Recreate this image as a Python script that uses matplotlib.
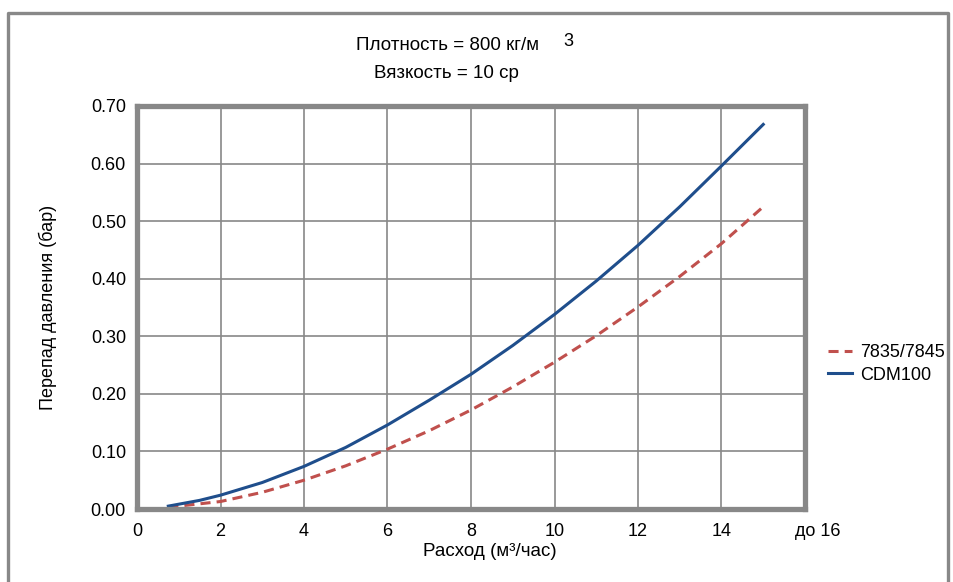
import matplotlib
matplotlib.use('Agg')
import matplotlib.pyplot as plt
from matplotlib.lines import Line2D
from matplotlib.transforms import ScaledTranslation

plt.rcParams['font.family'] = ['Liberation Sans', 'DejaVu Sans']

# flow rate, m3/h
flow = [0.75, 1.5, 2, 3, 4, 5, 6, 7, 8, 9, 10, 11, 12, 13, 14, 15]
# pressure drop, bar
dp_7835 = [0.003, 0.009, 0.013, 0.029, 0.050, 0.075, 0.104, 0.136, 0.172, 0.212, 0.255, 0.301, 0.351, 0.404, 0.461, 0.525]
dp_cdm100 = [0.005, 0.015, 0.024, 0.046, 0.074, 0.107, 0.146, 0.189, 0.234, 0.284, 0.338, 0.396, 0.458, 0.525, 0.596, 0.668]

xticks = [0, 2, 4, 6, 8, 10, 12, 14, 16]
xtick_labels = ['0', '2', '4', '6', '8', '10', '12', '14', 'до 16']
yticks = [0.0, 0.1, 0.2, 0.3, 0.4, 0.5, 0.6, 0.7]

W, H = 954, 582
fig = plt.figure(figsize=(W / 100, H / 100), dpi=100)
ax = fig.add_axes([137 / W, 1 - 509 / H, (805 - 137) / W, (509 - 106) / H])

gray = '#888888'
ax.plot(flow, dp_7835, color='#c0504d', lw=2.2, dashes=(3.3, 2.0), label='7835/7845')
ax.plot(flow, dp_cdm100, color='#1f4e8c', lw=2.2, label='CDM100')

ax.set_xlim(0, 16)
ax.set_ylim(0, 0.7)
ax.set_xticks(xticks)
ax.set_xticklabels(xtick_labels)
ax.set_yticks(yticks)
ax.set_yticklabels([f'{v:.2f}' for v in yticks])
ax.tick_params(length=0, labelsize=13)
ax.tick_params(axis='x', pad=10)
ax.tick_params(axis='y', pad=8)
ax.grid(True, color=gray, lw=1.2)
ax.set_axisbelow(True)
for s in ax.spines.values():
    s.set_color(gray)
    s.set_linewidth(3.8)

# shift "до 16" to the right like in the original
last = ax.get_xticklabels()[-1]
last.set_transform(last.get_transform() + ScaledTranslation(0.13, 0, fig.dpi_scale_trans))

# outer frame (no bottom edge)
fx = [8 / W, 8 / W, 948.5 / W, 948.5 / W]
fy = [0, 1 - 12.5 / H, 1 - 12.5 / H, 0]
fig.add_artist(Line2D(fx, fy, color=gray, lw=2.4, transform=fig.transFigure))

fig.text(356 / W, 1 - 45 / H, 'Плотность = 800 кг/м', fontsize=13.5, ha='left', va='center')
fig.text(563 / W, 1 - 41 / H, '3', fontsize=13, ha='left', va='center')
fig.text(446 / W, 1 - 73 / H, 'Вязкость = 10 ср', fontsize=13.5, ha='center', va='center')

fig.text(490 / W, 1 - 551 / H, 'Расход (м³/час)', fontsize=13.5, ha='center', va='center')
fig.text(48 / W, 1 - 307 / H, 'Перепад давления (бар)', fontsize=13, rotation=90,
         ha='center', va='center')

fig.legend(loc='center left', bbox_to_anchor=(828 / W, 1 - 364 / H), frameon=False,
           fontsize=13, handlelength=1.35, handletextpad=0.45, labelspacing=0.3,
           borderaxespad=0, borderpad=0)

fig.savefig('out.png', dpi=100)
